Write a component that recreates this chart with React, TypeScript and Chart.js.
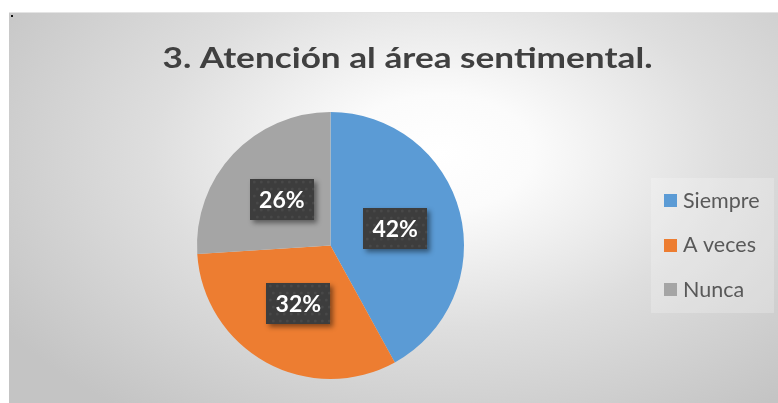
import React, { useEffect, useRef } from "react";
import { Chart, registerables } from "chart.js";

Chart.register(...registerables);

const TITLE = "3. Atención al área sentimental.";
const CATEGORIES = ["Siempre", "A veces", "Nunca"];
const VALUES = [42, 32, 26];
const COLORS = ["#5B9BD5", "#ED7D31", "#A5A5A5"];

const W = 769;
const H = 391;

const decorPlugin = {
  id: "decor",
  beforeDraw(chart: any) {
    const ctx = chart.ctx;
    ctx.save();
    ctx.translate(W * 0.56, H * 0.36);
    ctx.scale(1, 0.62);
    const g = ctx.createRadialGradient(0, 0, 0, 0, 0, 520);
    g.addColorStop(0, "#ffffff");
    g.addColorStop(0.18, "#fbfbfb");
    g.addColorStop(0.55, "#dedede");
    g.addColorStop(1, "#c4c4c4");
    ctx.fillStyle = g;
    ctx.fillRect(-W, -H * 2, W * 2, H * 4);
    ctx.restore();
    ctx.save();
    ctx.fillStyle = "#e4e4e4";
    ctx.fillRect(0, 0, W, 1);
    ctx.fillStyle = "#111";
    ctx.fillRect(2, 3, 2, 2);
    ctx.restore();
  },
  afterDraw(chart: any) {
    const ctx = chart.ctx;
    ctx.save();
    // title
    ctx.fillStyle = "#404040";
    ctx.font = "bold 28px Lato";
    ctx.textAlign = "left";
    ctx.textBaseline = "alphabetic";
    const tw = ctx.measureText(TITLE).width;
    const target = 490;
    ctx.save();
    ctx.translate(153.5, 56);
    ctx.scale(target / tw, 1);
    ctx.fillText(TITLE, 0, 0);
    ctx.restore();

    // data labels
    const meta = chart.getDatasetMeta(0);
    const data = chart.data.datasets[0].data as number[];
    const total = data.reduce((a, b) => a + b, 0);
    meta.data.forEach((arc: any, i: number) => {
      const p = arc.tooltipPosition();
      const bw = 64, bh = 41;
      const x = Math.round(p.x - bw / 2), y = Math.round(p.y - bh / 2);
      ctx.save();
      ctx.shadowColor = "rgba(0,0,0,0.45)";
      ctx.shadowBlur = 5;
      ctx.shadowOffsetX = 3;
      ctx.shadowOffsetY = 3;
      ctx.fillStyle = "#3d3d3d";
      ctx.fillRect(x, y, bw, bh);
      ctx.restore();
      ctx.save();
      ctx.fillStyle = "rgba(255,255,255,0.06)";
      for (let yy = y + 3; yy < y + bh; yy += 7) {
        for (let xx = x + 3 + (((yy - y) / 7) % 2) * 3; xx < x + bw; xx += 7) {
          ctx.beginPath();
          ctx.arc(xx, yy, 1.5, 0, Math.PI * 2);
          ctx.fill();
        }
      }
      ctx.restore();
      ctx.fillStyle = "#ffffff";
      ctx.font = "bold 23px Lato";
      ctx.textAlign = "center";
      ctx.textBaseline = "middle";
      ctx.fillText(Math.round((data[i] / total) * 100) + "%", p.x, p.y + 1);
    });

    // legend
    const lx = 642, ly = 166, lw = 123, lh = 135;
    ctx.fillStyle = "rgba(255,255,255,0.22)";
    ctx.fillRect(lx, ly, lw, lh);
    const labels = chart.data.labels as string[];
    const colors = chart.data.datasets[0].backgroundColor as string[];
    labels.forEach((lab, i) => {
      const sy = 182 + i * 44.5;
      ctx.fillStyle = colors[i];
      ctx.fillRect(655, Math.round(sy), 13, 13);
      ctx.fillStyle = "#595959";
      ctx.font = "21.5px Lato";
      ctx.textAlign = "left";
      ctx.textBaseline = "middle";
      ctx.fillText(lab, 674, sy + 7);
    });
    ctx.restore();
  },
};

export default function App() {
  const ref = useRef<HTMLCanvasElement | null>(null);
  useEffect(() => {
    if (!ref.current) return;
    const chart = new Chart(ref.current, {
      type: "pie",
      data: {
        labels: CATEGORIES,
        datasets: [
          {
            data: VALUES,
            backgroundColor: COLORS,
            borderWidth: 0,
          },
        ],
      },
      options: {
        responsive: false,
        animation: false,
        layout: { padding: { left: 188, right: 314, top: 100, bottom: 24 } },
        plugins: {
          legend: { display: false },
          tooltip: { enabled: false },
          title: { display: false },
        },
      },
      plugins: [decorPlugin],
    });
    return () => chart.destroy();
  }, []);
  return (
    <div style={{ position: "absolute", left: 9, top: 12, width: W, height: H }}>
      <canvas ref={ref} width={W} height={H} />
    </div>
  );
}
